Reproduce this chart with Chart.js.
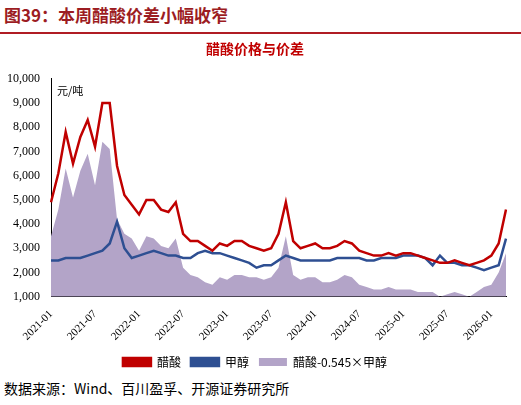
<!DOCTYPE html><html><head><meta charset="utf-8">
<script src="https://cdn.jsdelivr.net/npm/chart.js@4"></script>
<style>body{margin:0;width:521px;height:405px;background:#fff;font-family:"Noto Sans CJK SC";}
#h{position:absolute;left:4px;top:2px;font-size:17px;font-weight:bold;color:#9c1c22;}
#hl{position:absolute;left:0;top:32px;width:521px;height:2px;background:#b01c24;}
#c{position:absolute;left:0;top:38px;width:521px;height:340px;}
#f{position:absolute;left:4px;top:378px;font-size:14px;color:#000;font-family:"Noto Sans CJK SC";}
</style></head><body>
<div id="h">图39：本周醋酸价差小幅收窄</div><div id="hl"></div>
<div id="c"><canvas id="cv"></canvas></div>
<div id="f">数据来源：Wind、百川盈孚、开源证券研究所</div>
<script>
const months=[];for(let y=2021;y<=2026;y++)for(let m=1;m<=12;m++){if(y==2026&&m>3)break;months.push(y+'-'+String(m).padStart(2,'0'));}
const acetic=[4900,6100,7800,6500,7600,8300,7200,9000,9000,6400,5200,4800,
4400,5000,5000,4600,4500,4900,3600,3300,3300,3100,2900,3200,
3100,3300,3300,3100,3000,2900,3000,3600,4900,3300,3000,3100,
3200,3000,3000,3100,3300,3200,2900,2800,2700,2700,2800,2700,
2800,2800,2700,2600,2500,2400,2400,2500,2400,2300,2400,2500,
2700,3200,4600];
const methanol=[2500,2500,2600,2600,2600,2700,2800,2900,3200,4100,3000,2600,
2700,2800,2900,2800,2700,2700,2600,2600,2800,2900,2800,2800,
2700,2600,2500,2400,2200,2300,2300,2500,2700,2600,2500,2500,
2500,2500,2500,2600,2600,2600,2600,2500,2500,2600,2600,2600,
2700,2700,2700,2600,2300,2700,2400,2400,2300,2300,2200,2100,
2200,2300,3400];
const spread=[3500,4600,6300,5100,6200,6900,5600,7400,7100,4200,3600,3400,
2900,3500,3400,3100,3000,3400,2200,1900,1800,1600,1500,1800,
1700,1900,1900,1800,1800,1700,1800,2200,3500,1900,1700,1800,
1800,1600,1600,1700,1900,1800,1500,1400,1300,1300,1400,1300,
1300,1300,1200,1200,1200,1000,1100,1200,1100,1000,1200,1400,
1500,2000,2800];
const F='"Noto Sans CJK SC"';
new Chart(document.getElementById('cv'),{type:'line',data:{labels:months,datasets:[
{label:'醋酸-0.545×甲醇',data:spread,borderWidth:0,backgroundColor:'#b3a4c8',fill:'origin',pointRadius:0,tension:0,order:3},
{label:'甲醇',data:methanol,borderColor:'#2e4f92',backgroundColor:'#2e4f92',borderWidth:2.5,pointRadius:0,fill:false,order:2},
{label:'醋酸',data:acetic,borderColor:'#c00000',backgroundColor:'#c00000',borderWidth:2.5,pointRadius:0,fill:false,order:1}]},
options:{animation:false,responsive:true,maintainAspectRatio:false,layout:{padding:{right:15,left:4}},
plugins:{title:{display:true,text:'醋酸价格与价差',color:'#c00000',font:{family:F,size:14,weight:'bold'},padding:{top:2,bottom:22}},
legend:{position:'bottom',labels:{font:{family:F,size:12},color:'#000',boxWidth:28,boxHeight:8}}},
scales:{x:{grid:{display:false},border:{color:'#000'},ticks:{autoSkip:false,maxRotation:45,minRotation:45,color:'#000',font:{family:'Liberation Serif',size:11},
callback:(v,i)=>i%6==0?months[i]:''}},
y:{min:1000,max:10000,grid:{display:false},border:{color:'#000'},ticks:{stepSize:1000,color:'#000',font:{family:'Liberation Serif',size:12},callback:v=>v.toLocaleString('en-US')}}}},
plugins:[{id:'u',afterDraw(c){const x=c.ctx;x.save();x.font='11px '+F;x.fillStyle='#000';x.fillText('元/吨',c.chartArea.left+6,c.chartArea.top+12);x.restore();}}]});
</script></body></html>
